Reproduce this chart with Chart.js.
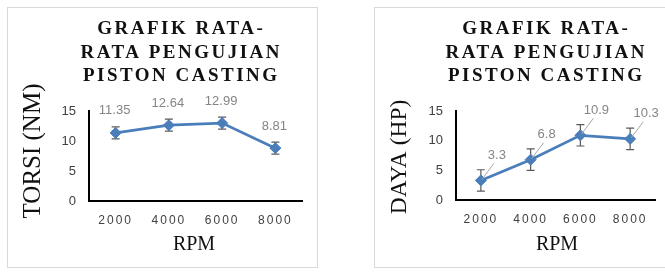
<!DOCTYPE html>
<html><head><meta charset="utf-8">
<script src="https://cdn.jsdelivr.net/npm/chart.js@4"></script>
<style>
html,body{margin:0;padding:0;background:#fff;width:665px;height:276px;overflow:hidden;position:relative}
.frame{position:absolute;border:1px solid #d9d9d9;box-sizing:border-box}
canvas{position:absolute}
</style></head>
<body>
<div class="frame" style="left:7px;top:7px;width:311px;height:261px"></div>
<div class="frame" style="left:374px;top:7px;width:300px;height:261px"></div>
<canvas id="c1" width="311" height="261" style="left:7px;top:7px"></canvas>
<canvas id="c2" width="300" height="261" style="left:374px;top:7px"></canvas>
<script>
// ---- data ----
const rpmLabels = ['2000', '4000', '6000', '8000'];
const torsiValues = [11.35, 12.64, 12.99, 8.81];
const torsiErrors = [1, 1, 1, 1];
const dayaValues = [3.3, 6.8, 10.9, 10.3];
const dayaErrors = [1.8, 1.8, 1.8, 1.8];
const titleLines = ['GRAFIK RATA-', 'RATA PENGUJIAN', 'PISTON CASTING'];
const yMin = 0, yMax = 15, yStep = 5;
const torsiAxisTitle = 'TORSI (NM)';
const dayaAxisTitle = 'DAYA (HP)';
const xAxisTitle = 'RPM';

const BLUE = '#4a7ebb';

const extras = {
  id: 'extras',
  afterLayout(chart) {
    const s = chart.scales.x;
    if (!s.__ls) {
      const orig = s.drawLabels;
      s.drawLabels = function (ca) {
        const c = this.ctx; c.save(); c.letterSpacing = '2px'; orig.call(this, ca); c.restore();
      };
      s.__ls = true;
    }
  },
  beforeDatasetsDraw(chart, args, o) {
    const ctx = chart.ctx, x = chart.scales.x, y = chart.scales.y;
    const vals = chart.data.datasets[0].data;
    ctx.save();
    ctx.strokeStyle = '#595959';
    ctx.lineWidth = 1.2;
    vals.forEach((v, i) => {
      const px = x.getPixelForValue(i);
      const t = y.getPixelForValue(v + o.errors[i]);
      const b = y.getPixelForValue(v - o.errors[i]);
      ctx.beginPath();
      ctx.moveTo(px, t); ctx.lineTo(px, b);
      ctx.moveTo(px - 4, t); ctx.lineTo(px + 4, t);
      ctx.moveTo(px - 4, b); ctx.lineTo(px + 4, b);
      ctx.stroke();
    });
    ctx.restore();
  },
  afterDraw(chart, args, o) {
    const ctx = chart.ctx, x = chart.scales.x, y = chart.scales.y;
    const vals = chart.data.datasets[0].data;
    ctx.save();
    // data labels
    ctx.font = '13px "Liberation Sans", Arial, sans-serif';
    ctx.fillStyle = '#858585';
    ctx.textAlign = 'center';
    ctx.textBaseline = 'middle';
    vals.forEach((v, i) => {
      const px = x.getPixelForValue(i), py = y.getPixelForValue(v);
      if (o.leader) {
        ctx.save();
        ctx.strokeStyle = '#a6a6a6'; ctx.lineWidth = 1;
        ctx.beginPath(); ctx.moveTo(px + 1, py - 1); ctx.lineTo(px + o.dx - 3, py + o.dy + 8); ctx.stroke();
        ctx.restore();
      }
      ctx.fillText(String(v), px + o.dx, py + o.dy);
    });
    // title
    ctx.fillStyle = '#111';
    ctx.font = 'bold 19px "Liberation Serif", "Times New Roman", serif';
    ctx.letterSpacing = '2.5px';
    titleLines.forEach((t, i) => ctx.fillText(t, o.titleX + 1.25, 22.5 + i * 23.5));
    ctx.letterSpacing = '0px';
    // x axis title
    ctx.font = '20px "Liberation Serif", "Times New Roman", serif';
    ctx.fillText(xAxisTitle, o.xTitleX, 238);
    // y axis title
    ctx.font = o.yTitleSize + 'px "Liberation Serif", "Times New Roman", serif';
    ctx.translate(26, o.yTitleY);
    ctx.rotate(-Math.PI / 2);
    ctx.fillText(o.yTitle, 0, 0);
    ctx.restore();
  }
};

function makeChart(id, values, errors, opts) {
  return new Chart(document.getElementById(id), {
    type: 'line',
    data: {
      labels: rpmLabels,
      datasets: [{
        data: values,
        borderColor: BLUE,
        backgroundColor: BLUE,
        borderWidth: 2.75,
        pointStyle: 'rectRot',
        pointRadius: 5.5,
        pointBorderWidth: 1,
        tension: 0,
        clip: false
      }]
    },
    options: {
      responsive: false,
      animation: false,
      events: [],
      layout: { padding: { left: 49, right: opts.padRight, top: 104, bottom: opts.padBottom } },
      plugins: {
        legend: { display: false },
        tooltip: { enabled: false },
        extras: Object.assign({ errors: errors }, opts.extras)
      },
      scales: {
        x: {
          offset: true,
          grid: { display: false, drawTicks: false },
          border: { color: '#000', width: 2 },
          ticks: { color: '#404040', font: { size: 12, family: '"Liberation Sans", Arial, sans-serif' }, padding: 12, maxRotation: 0 },
          afterFit: s => { s.height = 30; }
        },
        y: {
          min: yMin, max: yMax,
          grid: { display: false, drawTicks: false },
          border: { color: '#000', width: 2 },
          ticks: { stepSize: yStep, color: '#404040', font: { size: 13, family: '"Liberation Sans", Arial, sans-serif' }, padding: 13 },
          afterFit: s => { s.width = 33; }
        }
      }
    },
    plugins: [extras]
  });
}

makeChart('c1', torsiValues, torsiErrors, {
  padRight: 16, padBottom: 37,
  extras: { dx: -1, dy: -22, leader: false, titleX: 173, xTitleX: 187, yTitle: torsiAxisTitle, yTitleY: 144, yTitleSize: 25 }
});
makeChart('c2', dayaValues, dayaErrors, {
  padRight: 19, padBottom: 38,
  extras: { dx: 16, dy: -25, leader: true, titleX: 171, xTitleX: 183, yTitle: dayaAxisTitle, yTitleY: 150, yTitleSize: 23.5 }
});
</script>
</body></html>
